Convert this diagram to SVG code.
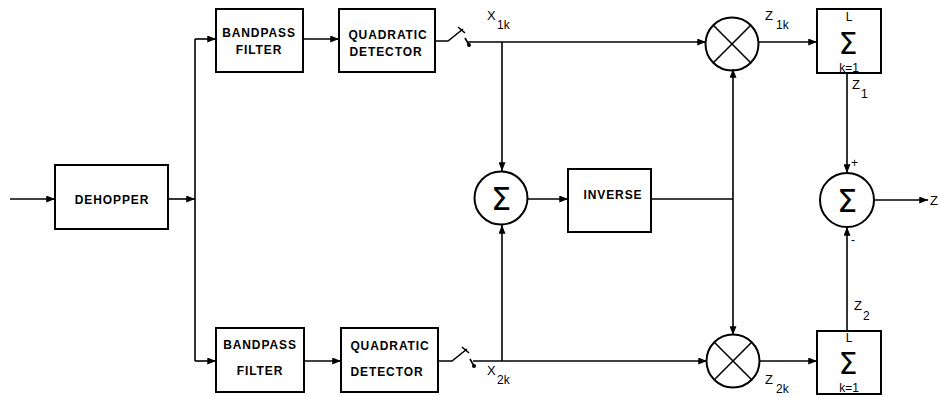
<svg xmlns="http://www.w3.org/2000/svg" width="940" height="397" viewBox="0 0 940 397">
<style>
.box{fill:#fff;stroke:#000;stroke-width:2}
.c{fill:none;stroke:#000;stroke-width:2}
.ln{fill:none;stroke:#000;stroke-width:1.6}
.t{font-family:"Liberation Sans","DejaVu Sans",sans-serif;font-size:12px;font-weight:bold;letter-spacing:0.9px;fill:#000;text-anchor:middle}
.lab{font-family:"Liberation Sans","DejaVu Sans",sans-serif;font-size:13px;fill:#000}
.sub{font-family:"Liberation Sans","DejaVu Sans",sans-serif;font-size:12px;fill:#000}
.sig{font-family:"DejaVu Sans","Liberation Sans",sans-serif;fill:#000;text-anchor:middle}
</style>
<defs>
<marker id="ah" viewBox="0 0 10 8" refX="10" refY="4" markerWidth="9" markerHeight="7" markerUnits="userSpaceOnUse" orient="auto">
<path d="M0,0 L10,4 L0,8 z" fill="#000"/>
</marker>
</defs>
<rect width="940" height="397" fill="#fff"/>

<g id="connectors">
<line class="ln" x1="10" y1="199" x2="55" y2="199" marker-end="url(#ah)"/>
<line class="ln" x1="168" y1="199" x2="195" y2="199" marker-end="url(#ah)"/>
<polyline class="ln" points="195,39 195,361"/>
<line class="ln" x1="195" y1="39" x2="216" y2="39" marker-end="url(#ah)"/>
<line class="ln" x1="195" y1="361" x2="216" y2="361" marker-end="url(#ah)"/>
<line class="ln" x1="303" y1="39" x2="339" y2="39" marker-end="url(#ah)"/>
<line class="ln" x1="304" y1="361" x2="341" y2="361" marker-end="url(#ah)"/>
<polyline class="ln" points="435,41 448,41 463,29"/>
<line class="ln" x1="458" y1="27" x2="465" y2="33"/>
<line class="ln" x1="465" y1="38" x2="469" y2="45"/>
<circle cx="469" cy="45" r="2" fill="#000"/>
<line class="ln" x1="468" y1="42" x2="706" y2="42" marker-end="url(#ah)"/>
<polyline class="ln" points="438,361 452,361 467,349"/>
<line class="ln" x1="462" y1="347" x2="469" y2="353"/>
<line class="ln" x1="470" y1="359" x2="474" y2="366"/>
<circle cx="474" cy="366" r="2" fill="#000"/>
<line class="ln" x1="473" y1="361" x2="707" y2="361" marker-end="url(#ah)"/>
<line class="ln" x1="502" y1="42" x2="502" y2="171" marker-end="url(#ah)"/>
<line class="ln" x1="502" y1="361" x2="502" y2="225" marker-end="url(#ah)"/>
<line class="ln" x1="528" y1="199" x2="568" y2="199" marker-end="url(#ah)"/>
<line class="ln" x1="651" y1="199" x2="733" y2="199"/>
<line class="ln" x1="733" y1="199" x2="733" y2="69" marker-end="url(#ah)"/>
<line class="ln" x1="733" y1="199" x2="733" y2="335" marker-end="url(#ah)"/>
<line class="ln" x1="759" y1="42" x2="817" y2="42" marker-end="url(#ah)"/>
<line class="ln" x1="759" y1="361" x2="817" y2="361" marker-end="url(#ah)"/>
<line class="ln" x1="847" y1="73" x2="847" y2="173" marker-end="url(#ah)"/>
<line class="ln" x1="847" y1="331" x2="847" y2="227" marker-end="url(#ah)"/>
<line class="ln" x1="874" y1="200" x2="928" y2="200" marker-end="url(#ah)"/>
</g>

<g id="dehopper">
<rect class="box" x="55" y="165" width="113" height="64"/>
<text class="t" x="112" y="204">DEHOPPER</text>
</g>
<g id="bpf1">
<rect class="box" x="216" y="9" width="87" height="63"/>
<text class="t" x="259" y="37">BANDPASS</text>
<text class="t" x="259" y="54">FILTER</text>
</g>
<g id="qd1">
<rect class="box" x="339" y="9" width="96" height="63"/>
<text class="t" x="388" y="39">QUADRATIC</text>
<text class="t" x="386" y="56">DETECTOR</text>
</g>
<g id="bpf2">
<rect class="box" x="216" y="328" width="88" height="64"/>
<text class="t" x="260" y="349">BANDPASS</text>
<text class="t" x="260" y="375">FILTER</text>
</g>
<g id="qd2">
<rect class="box" x="341" y="328" width="97" height="64"/>
<text class="t" x="390" y="350">QUADRATIC</text>
<text class="t" x="387" y="376">DETECTOR</text>
</g>
<g id="sum1">
<circle class="c" cx="501" cy="198" r="26.5"/>
<text class="sig" x="501" y="210" font-size="32">Σ</text>
</g>
<g id="inverse">
<rect class="box" x="568" y="169" width="83" height="63"/>
<text class="t" x="613" y="199">INVERSE</text>
</g>
<g id="mult1">
<circle class="c" cx="732" cy="44" r="26.5"/>
<line class="ln" x1="713.3" y1="25.3" x2="750.7" y2="62.7"/>
<line class="ln" x1="750.7" y1="25.3" x2="713.3" y2="62.7"/>
</g>
<g id="mult2">
<circle class="c" cx="733" cy="361" r="26.5"/>
<line class="ln" x1="714.3" y1="342.3" x2="751.7" y2="379.7"/>
<line class="ln" x1="751.7" y1="342.3" x2="714.3" y2="379.7"/>
</g>
<g id="acc1">
<rect class="box" x="817" y="9" width="64" height="64"/>
<text class="sub" x="849" y="21" text-anchor="middle">L</text>
<text class="sig" x="848" y="54" font-size="30">Σ</text>
<text class="sub" x="849" y="71.5" text-anchor="middle" font-size="10">k=1</text>
</g>
<g id="acc2">
<rect class="box" x="817" y="331" width="64" height="63"/>
<text class="sub" x="849" y="342" text-anchor="middle">L</text>
<text class="sig" x="848" y="374" font-size="30">Σ</text>
<text class="sub" x="849" y="391.5" text-anchor="middle" font-size="10">k=1</text>
</g>
<g id="sum2">
<circle class="c" cx="847" cy="200" r="27"/>
<text class="sig" x="847" y="212" font-size="32">Σ</text>
</g>

<g id="labels">
<text class="lab" x="487" y="20">X</text><text class="sub" x="497" y="29">1k</text>
<text class="lab" x="487" y="375">X</text><text class="sub" x="497" y="384">2k</text>
<text class="lab" x="765" y="20">Z</text><text class="sub" x="776" y="29">1k</text>
<text class="lab" x="765" y="384">Z</text><text class="sub" x="776" y="393">2k</text>
<text class="lab" x="852" y="89">Z</text><text class="sub" x="861" y="98">1</text>
<text class="lab" x="854" y="310">Z</text><text class="sub" x="863" y="320">2</text>
<text class="sub" x="851" y="167">+</text>
<text class="sub" x="851" y="244">-</text>
<text class="lab" x="930" y="205">Z</text>
</g>
</svg>
